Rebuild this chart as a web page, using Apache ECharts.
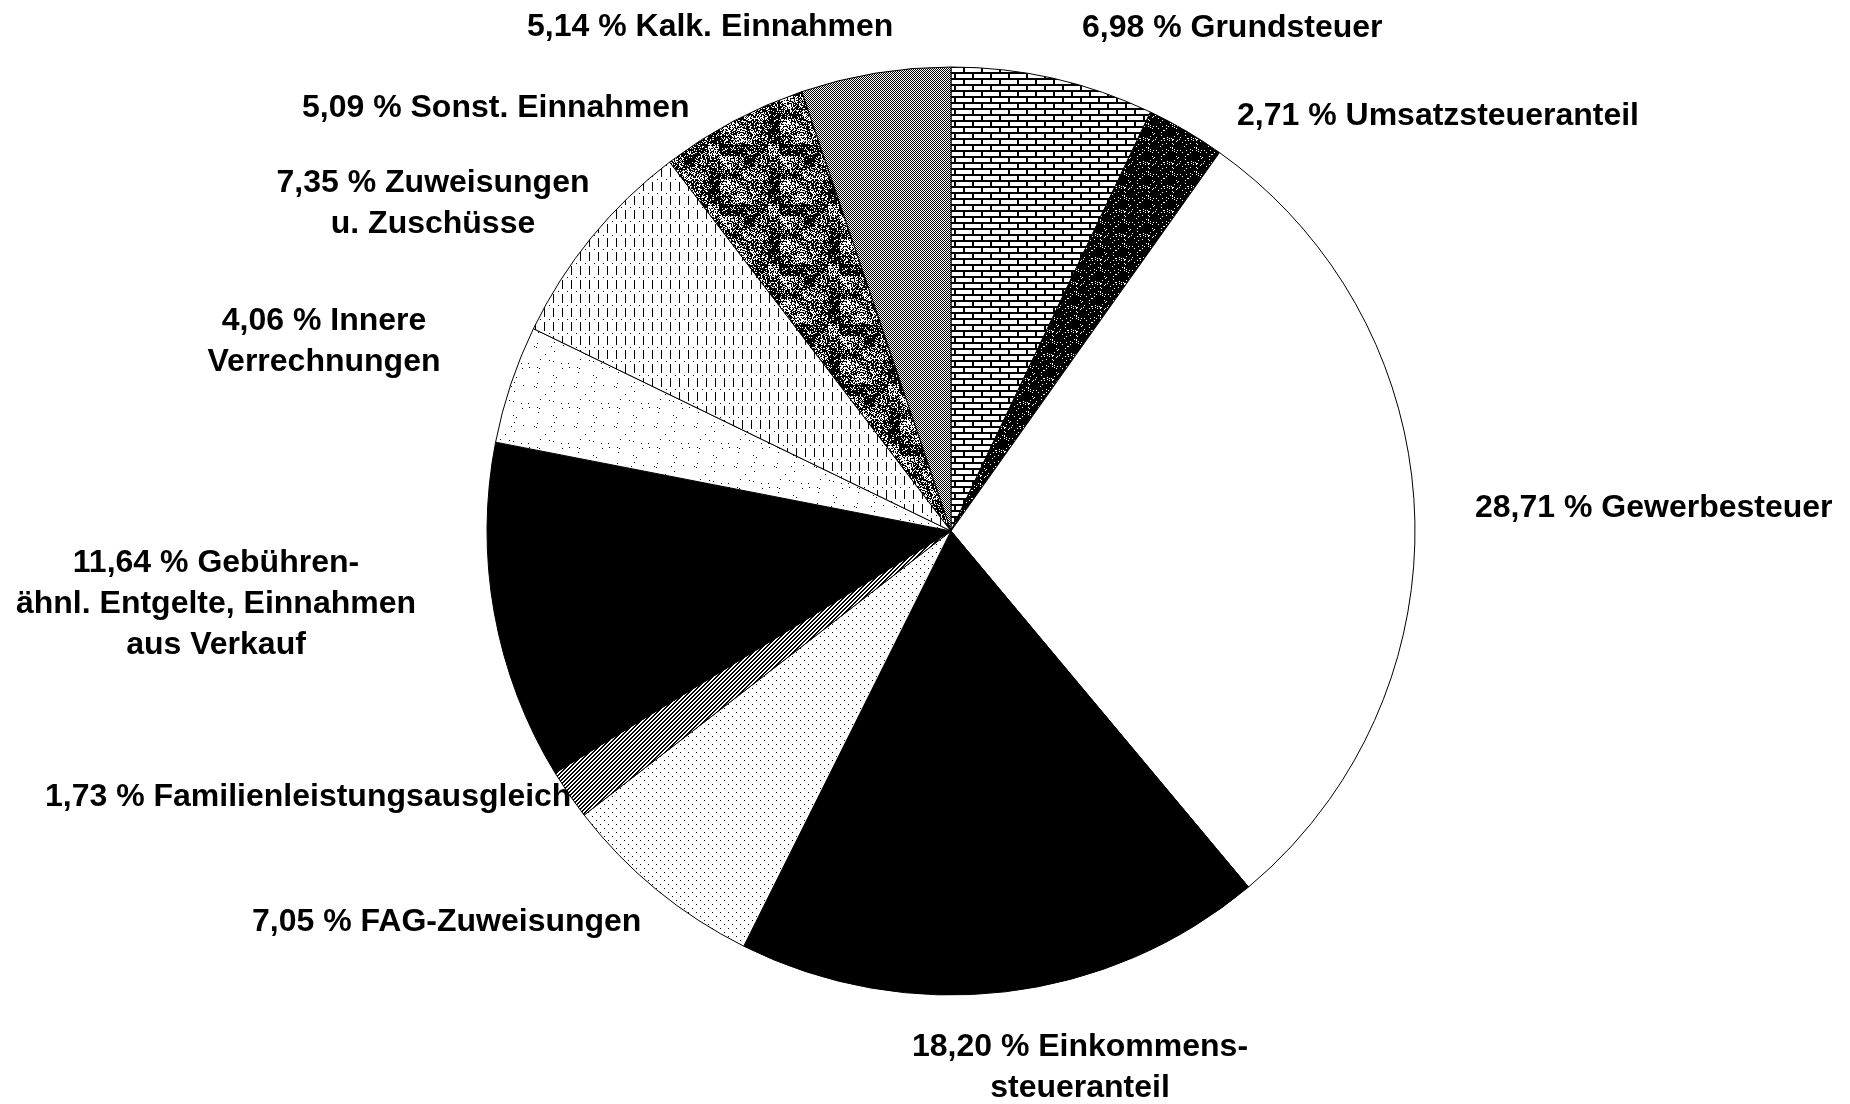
<!DOCTYPE html>
<html>
<head>
<meta charset="utf-8">
<script src="https://cdn.jsdelivr.net/npm/echarts@6/dist/echarts.min.js"></script>
<style>
  html, body { margin: 0; background: #fff; }
  #chart { width: 1850px; height: 1104px; }
</style>
</head>
<body>
<div id="chart"></div>
<script>
// slices, clockwise from 12 o'clock
const categories = [
  'Grundsteuer',
  'Umsatzsteueranteil',
  'Gewerbesteuer',
  'Einkommens-\nsteueranteil',
  'FAG-Zuweisungen',
  'Familienleistungsausgleich',
  'Gebühren-\nähnl. Entgelte, Einnahmen\naus Verkauf',
  'Innere\nVerrechnungen',
  'Zuweisungen\nu. Zuschüsse',
  'Sonst. Einnahmen',
  'Kalk. Einnahmen'
]
const shares = [6.98, 2.71, 28.71, 18.20, 7.05, 1.73, 11.64, 4.06, 7.35, 5.09, 5.14]

// where each label sits: [x, y, align]
const labelSpots = [
  [1082, 28, 'left'], [1237, 116, 'left'], [1475, 508, 'left'], [1080, 1068, 'center'],
  [252, 922, 'left'], [45, 797, 'left'], [216, 604, 'center'], [324, 342, 'center'],
  [433, 204, 'center'], [302, 108, 'left'], [527, 27, 'left']
]

function hash(x, y, s) {
  let n = Math.imul(x, 374761393) + Math.imul(y, 668265263) + Math.imul(s, 1442695041)
  n = Math.imul(n ^ (n >>> 13), 1274126177)
  n = n ^ (n >>> 16)
  return ((n >>> 0) % 10000) / 10000
}

function tile(w, h, paint) {
  const c = document.createElement('canvas')
  c.width = w; c.height = h
  const ctx = c.getContext('2d')
  ctx.fillStyle = '#fff'
  ctx.fillRect(0, 0, w, h)
  ctx.fillStyle = '#000'
  paint(ctx, w, h)
  return { image: c, repeat: 'repeat' }
}

function pixels(w, h, test) {
  return tile(w, h, (ctx) => {
    for (let y = 0; y < h; y++)
      for (let x = 0; x < w; x++)
        if (test(x, y)) ctx.fillRect(x, y, 1, 1)
  })
}

const fills = [
  // brick
  tile(18, 12, (ctx) => {
    ctx.fillRect(0, 0, 18, 2)
    ctx.fillRect(0, 6, 18, 2)
    ctx.fillRect(0, 0, 2, 6)
    ctx.fillRect(9, 6, 2, 6)
  }),
  pixels(24, 24, (x, y) => hash(x, y, 1) > 0.05),
  '#ffffff',
  '#000000',
  pixels(8, 8, (x, y) => (x === 0 && y === 0) || (x === 4 && y === 4)),
  pixels(4, 4, (x, y) => (x + y) % 4 < 2),
  '#000000',
  pixels(40, 40, (x, y) => hash(x, y, 7) < 0.012),
  tile(9, 14, (ctx) => {
    ctx.fillRect(4, 0, 1, 9)
    ctx.fillRect(0, 11, 1, 1)
  }),
  pixels(60, 60, (x, y) => {
    const blob = hash(Math.floor(x / 12), Math.floor(y / 12), 3)
    return hash(x, y, 5) < 0.4 + 0.5 * blob
  }),
  pixels(2, 2, (x, y) => (x + y) % 2 === 0)
]

const chart = echarts.init(document.getElementById('chart'))

chart.setOption({
  animation: false,
  backgroundColor: '#fff',
  series: [{
    type: 'pie',
    center: [951, 531],
    radius: [0, 464],
    startAngle: 90,
    clockwise: true,
    avoidLabelOverlap: false,
    itemStyle: { borderColor: '#000', borderWidth: 1 },
    label: {
      show: true,
      color: '#000',
      fontFamily: 'Liberation Sans, Arial, sans-serif',
      fontWeight: 'bold',
      fontSize: 32,
      lineHeight: 41,
      formatter: (p) => p.value.toFixed(2).replace('.', ',') + ' % ' + p.name
    },
    labelLine: { show: false },
    labelLayout: (p) => {
      const s = labelSpots[p.dataIndex]
      return { x: s[0], y: s[1], align: s[2], verticalAlign: 'middle' }
    },
    emphasis: { disabled: true },
    data: categories.map((name, i) => ({
      name: name,
      value: shares[i],
      itemStyle: { color: fills[i] }
    }))
  }]
})
</script>
</body>
</html>
